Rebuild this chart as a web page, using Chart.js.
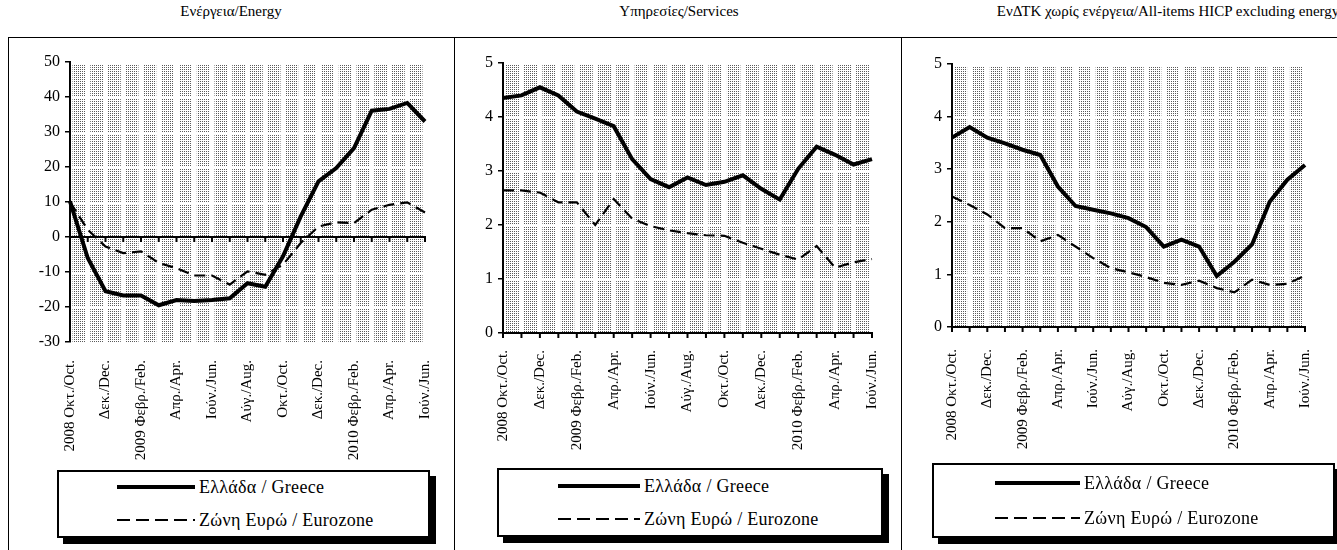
<!DOCTYPE html>
<html>
<head>
<meta charset="utf-8">
<script src="https://cdn.jsdelivr.net/npm/chart.js@4.4.1/dist/chart.umd.min.js"></script>
<style>
  body { margin: 0; background: #fff; width: 1337px; height: 550px; overflow: hidden; position: relative; font-family: "Liberation Serif", "DejaVu Serif", serif; }
  .frame { position: absolute; background: #000; }
  .ptitle { position: absolute; top: 3px; font-family: "Liberation Serif", serif; font-size: 15px; color: #000; white-space: nowrap; transform: translateX(-50%); }
  .wrap { position: absolute; }
  .legend { position: absolute; border: 2px solid #000; box-sizing: border-box; background: #fff; box-shadow: 6px 6px 0 #000; }
  .lrow { position: absolute; font-family: "Liberation Serif", serif; font-size: 18px; white-space: nowrap; line-height: 20px; }
</style>
</head>
<body>

<div class="frame" style="left:8px;top:37px;width:1329px;height:1px"></div>
<div class="frame" style="left:8px;top:37px;width:1px;height:520px"></div>
<div class="frame" style="left:454px;top:37px;width:1px;height:520px"></div>
<div class="frame" style="left:901px;top:37px;width:1px;height:520px"></div>

<div class="ptitle" style="left:231px">Ενέργεια/Energy</div>
<div class="ptitle" style="left:679px">Υπηρεσίες/Services</div>
<div class="ptitle" style="left:1168px">ΕνΔΤΚ χωρίς ενέργεια/All-items HICP excluding energy</div>

<div class="wrap" style="left:10px;top:39px;width:443px;height:425px"><canvas id="energy"></canvas></div>
<div class="wrap" style="left:456px;top:39px;width:444px;height:425px"><canvas id="services"></canvas></div>
<div class="wrap" style="left:903px;top:39px;width:434px;height:425px"><canvas id="core"></canvas></div>

<script>
// monthly, Oct 2008 - Jun 2010, labelled every second month
const months = ["2008 Οκτ./Oct.", "", "Δεκ./Dec.", "", "2009 Φεβρ./Feb.", "", "Απρ./Apr.", "", "Ιούν./Jun.", "",
    "Αύγ./Aug.", "", "Οκτ./Oct.", "", "Δεκ./Dec.", "", "2010 Φεβρ./Feb.", "", "Απρ./Apr.", "", "Ιούν./Jun."];

const seriesNames = ["Ελλάδα / Greece", "Ζώνη Ευρώ / Eurozone"];

const energyGreece = [10.2, -6, -15.5, -16.7, -16.7, -19.5, -18, -18.3, -18, -17.5, -13.2, -14.2, -5.5, 5.9, 15.9, 19.7, 25.4, 36.1, 36.6, 38.3, 33];
const energyEurozone = [10, 2.1, -2.7, -4.6, -4.1, -7.4, -8.9, -11, -11, -13.6, -9.8, -10.8, -7.9, -1.7, 3, 4.2, 4, 7.8, 9.2, 9.9, 7];

const servicesGreece = [4.35, 4.4, 4.55, 4.4, 4.1, 3.97, 3.83, 3.22, 2.85, 2.7, 2.88, 2.74, 2.8, 2.92, 2.67, 2.47, 3.04, 3.45, 3.3, 3.12, 3.22];
const servicesEurozone = [2.64, 2.64, 2.6, 2.42, 2.42, 2.0, 2.48, 2.12, 1.98, 1.9, 1.85, 1.81, 1.8, 1.67, 1.56, 1.45, 1.36, 1.61, 1.21, 1.31, 1.37];

const coreGreece = [3.6, 3.8, 3.6, 3.49, 3.37, 3.27, 2.67, 2.3, 2.23, 2.16, 2.07, 1.9, 1.53, 1.66, 1.53, 0.97, 1.24, 1.57, 2.38, 2.8, 3.08];
const coreEurozone = [2.48, 2.32, 2.14, 1.88, 1.88, 1.63, 1.75, 1.53, 1.31, 1.12, 1.04, 0.95, 0.84, 0.8, 0.88, 0.74, 0.66, 0.9, 0.8, 0.82, 0.98];

let dots;
function dotPattern(ctx) {
    if (!dots) {
        const t = document.createElement("canvas");
        t.width = 2; t.height = 2;
        const c = t.getContext("2d");
        c.fillStyle = "#fff"; c.fillRect(0, 0, 2, 2);
        c.fillStyle = "#5a5a5a"; c.fillRect(0, 0, 1, 1);
        dots = ctx.createPattern(t, "repeat");
    }
    return dots;
}

/* stippled plot area + zero line with monthly ticks */
const plotBg = {
    id: "plotBg",
    beforeDraw(chart) {
        const { ctx, chartArea: a, scales: { x, y } } = chart;
        ctx.save();
        ctx.fillStyle = dotPattern(ctx);
        ctx.fillRect(a.left, a.top, a.right - a.left, a.bottom - a.top);
        ctx.fillStyle = "#fff";
        x.ticks.forEach((t, i) => {
            const px = x.getPixelForTick(i);
            ctx.fillRect(px - 2.5, a.top, 5, a.bottom - a.top);
        });
        y.ticks.forEach((t, i) => {
            const py = y.getPixelForTick(i);
            ctx.fillRect(a.left, py, a.right - a.left, 2);
        });
        ctx.restore();
    },
    beforeDatasetsDraw(chart) {
        const { ctx, chartArea: a, scales: { x, y } } = chart;
        const y0 = y.getPixelForValue(Math.max(0, y.min));
        ctx.save();
        ctx.strokeStyle = "#000";
        ctx.lineWidth = 2;
        ctx.beginPath();
        ctx.moveTo(a.left, y0);
        ctx.lineTo(a.right + 1, y0);
        x.ticks.forEach((t, i) => {
            const px = x.getPixelForTick(i);
            ctx.moveTo(px, y0);
            ctx.lineTo(px, y0 + 5);
        });
        ctx.stroke();
        ctx.restore();
    }
};

function makePanel(id, greece, euro, p) {
    const chart = new Chart(document.getElementById(id), {
        type: "line",
        data: {
            labels: months,
            datasets: [
                { label: seriesNames[0], data: greece, borderColor: "#000", borderWidth: 4, pointRadius: 0, tension: 0, clip: false },
                { label: seriesNames[1], data: euro, borderColor: "#000", borderWidth: 2.2, borderDash: [11, 6], pointRadius: 0, tension: 0, clip: false }
            ]
        },
        options: {
            responsive: true,
            maintainAspectRatio: false,
            animation: false,
            layout: { padding: { top: p.top, right: p.right, left: 0, bottom: 0 } },
            plugins: { legend: { display: false }, tooltip: { enabled: false } },
            scales: {
                x: {
                    grid: { display: false },
                    border: { display: false },
                    ticks: {
                        autoSkip: false, maxRotation: 90, minRotation: 90, padding: p.labelPad,
                        color: "#000", font: { family: "Liberation Serif", size: 15 }
                    },
                    afterFit(s) { s.height = p.xh; }
                },
                y: {
                    min: p.min, max: p.max,
                    border: { display: true, color: "#000", width: 2 },
                    grid: { drawOnChartArea: false, drawTicks: true, tickLength: 5, color: "#000", lineWidth: 1.5 },
                    ticks: { stepSize: p.step, padding: 5, color: "#000", font: { family: "Liberation Serif", size: 16 } },
                    afterFit(s) { s.width = p.yw; }
                }
            }
        },
        plugins: [plotBg]
    });

    // framed legend with drop shadow
    const lg = document.createElement("div");
    lg.className = "legend";
    Object.assign(lg.style, { left: p.lg[0] + "px", top: p.lg[1] + "px", width: (p.lg[2] - p.lg[0]) + "px", height: (p.lg[3] - p.lg[1]) + "px" });
    document.body.appendChild(lg);
    chart.data.datasets.forEach((ds, i) => {
        const row = document.createElement("div");
        row.className = "lrow";
        const w = p.sample[1] - p.sample[0];
        const ry = p.rows[i];
        Object.assign(row.style, { left: p.sample[0] + "px", top: (ry - 10) + "px" });
        const dash = ds.borderDash ? ` stroke-dasharray="13 6"` : "";
        row.innerHTML = `<svg width="${w}" height="20" style="vertical-align:top"><line x1="0" y1="10" x2="${w}" y2="10" stroke="#000" stroke-width="${ds.borderDash ? 2 : 4}"${dash}/></svg><span style="position:relative;left:4px;letter-spacing:0.3px">${ds.label}</span>`;
        document.body.appendChild(row);
    });
    return chart;
}

makePanel("energy", energyGreece, energyEurozone, {
    min: -30, max: 50, step: 10, yw: 60, top: 23, right: 26, xh: 122, labelPad: 10,
    lg: [57, 470, 430, 538], sample: [117, 195], rows: [487, 520]
});
makePanel("services", servicesGreece, servicesEurozone, {
    min: 0, max: 5, step: 1, yw: 47, top: 24, right: 28, xh: 131, labelPad: 9,
    lg: [497, 468, 883, 537], sample: [558, 640], rows: [486, 519]
});
makePanel("core", coreGreece, coreEurozone, {
    min: 0, max: 5, step: 1, yw: 49, top: 25, right: 20, xh: 137, labelPad: 14,
    lg: [932, 463, 1335, 538], sample: [995, 1080], rows: [483, 518]
});
</script>
</body>
</html>
